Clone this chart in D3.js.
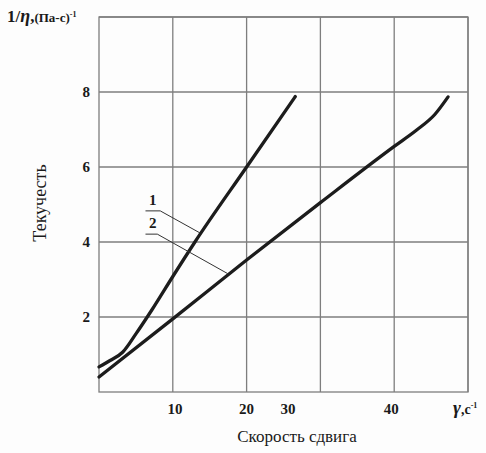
<!DOCTYPE html>
<html>
<head>
<meta charset="utf-8">
<script src="https://cdn.jsdelivr.net/npm/d3@7"></script>
<style>
  body { margin: 0; background: #fdfdfd; }
  text { font-family: "Liberation Serif", "DejaVu Serif", serif; fill: #1a1a1a; }
</style>
</head>
<body>
<div id="chart"></div>
<script>
// data
var xTicks = [10, 20, 30, 40];
var xTickLabels = ["10", "20", "30", "40"];
var xTickLabelPos = [10.3, 20, 25.6, 39.6]; // where the labels actually sit (the "30" is shifted in the original)
var yTicks = [2, 4, 6, 8];
var xGrid = [10, 20, 30, 40, 50];
var yGrid = [2, 4, 6, 8, 10];

// curve 1 (steeper)
var curve1 = [[0, 0.67], [1.5, 0.84], [3.2, 1.06], [5, 1.55], [7.2, 2.2], [10, 3.08], [13, 4.0], [20, 6.0], [26.6, 7.88]];
// curve 2
var curve2 = [[0, 0.4], [10, 1.95], [20, 3.52], [30, 5.05], [40, 6.55], [43, 6.98], [45.5, 7.4], [47.3, 7.87]];

// labels with leader lines
var leaders = [
  {name: "1", pts: [[6.3, 4.83], [8.3, 4.83], [13.7, 4.24]], tx: 7.3, ty: 5.0},
  {name: "2", pts: [[6.3, 4.21], [7.9, 4.21], [17.5, 3.15]], tx: 7.3, ty: 4.37}
];

var W = 486, H = 453;
var padL = 99, padR = 468, padT = 17, padB = 392;

var x = d3.scaleLinear().domain([0, 50]).range([padL, padR]);
var y = d3.scaleLinear().domain([0, 10]).range([padB, padT]);

var svg = d3.select("#chart").append("svg").attr("width", W).attr("height", H);
svg.append("rect").attr("width", W).attr("height", H).attr("fill", "#fdfdfd");

//网格
svg.selectAll(".vl").data(xGrid).enter().append("line")
    .attr("stroke", "#7e7e7e").attr("stroke-width", 1.3)
    .attr("x1", function (d) { return x(d); }).attr("y1", y(0))
    .attr("x2", function (d) { return x(d); }).attr("y2", y(10));
svg.selectAll(".hl").data(yGrid).enter().append("line")
    .attr("stroke", "#7e7e7e").attr("stroke-width", 1.3)
    .attr("x1", x(0)).attr("y1", function (d) { return y(d); })
    .attr("x2", x(50)).attr("y2", function (d) { return y(d); });
//外框
svg.append("rect").attr("x", x(0)).attr("y", y(10)).attr("width", x(50) - x(0)).attr("height", y(0) - y(10))
    .attr("fill", "none").attr("stroke", "#7e7e7e").attr("stroke-width", 1.3);

//刻度文字
svg.selectAll(".yt").data(yTicks).enter().append("text")
    .attr("x", 90).attr("y", function (d) { return y(d) + 5; })
    .attr("text-anchor", "end").attr("font-size", 15).attr("font-weight", "bold")
    .text(function (d) { return d; });
svg.selectAll(".xt").data(xTickLabels).enter().append("text")
    .attr("x", function (d, i) { return x(xTickLabelPos[i]); }).attr("y", 414)
    .attr("text-anchor", "middle").attr("font-size", 15).attr("font-weight", "bold")
    .text(function (d) { return d; });

//曲线
var line = d3.line()
    .x(function (d) { return x(d[0]); })
    .y(function (d) { return y(d[1]); })
    .curve(d3.curveMonotoneX);
[curve1, curve2].forEach(function (c) {
  svg.append("path").attr("d", line(c)).attr("fill", "none")
      .attr("stroke", "#1c1c1c").attr("stroke-width", 3.3)
      .attr("stroke-linejoin", "round").attr("stroke-linecap", "round");
});

//标注线
var plain = d3.line().x(function (d) { return x(d[0]); }).y(function (d) { return y(d[1]); });
leaders.forEach(function (l) {
  svg.append("path").attr("d", plain(l.pts)).attr("fill", "none")
      .attr("stroke", "#333").attr("stroke-width", 1);
  svg.append("text").attr("x", x(l.tx)).attr("y", y(l.ty))
      .attr("text-anchor", "middle").attr("font-size", 15).attr("font-weight", "bold")
      .text(l.name);
});

//y轴标题
var yt = svg.append("text").attr("x", 7).attr("y", 22).attr("font-weight", "bold");
yt.append("tspan").attr("font-size", 17).text("1/");
yt.append("tspan").attr("font-size", 18).attr("font-style", "italic").text("η");
yt.append("tspan").attr("font-size", 17).text(",");
yt.append("tspan").attr("font-size", 13).text("(Па-с)");
yt.append("tspan").attr("font-size", 8).attr("dy", -5).text("-1");

svg.append("text").attr("transform", "translate(46,203) rotate(-90)")
    .attr("text-anchor", "middle").attr("font-size", 18).text("Текучесть");

//x轴标题
var xt = svg.append("text").attr("x", 453).attr("y", 414).attr("font-weight", "bold");
xt.append("tspan").attr("font-size", 19).attr("font-style", "italic").text("γ");
xt.append("tspan").attr("font-size", 14).text(",c");
xt.append("tspan").attr("font-size", 8).attr("dy", -6).text("-1");

svg.append("text").attr("x", 297).attr("y", 442)
    .attr("text-anchor", "middle").attr("font-size", 17).text("Скорость сдвига");
</script>
</body>
</html>
